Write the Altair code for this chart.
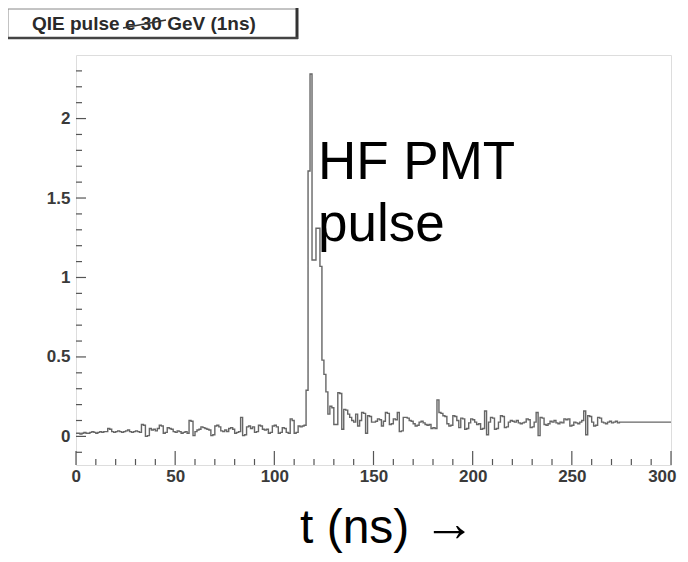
import altair as alt
import pandas as pd

# 1 ns bins, value of bin [t, t+1)
counts = [
    0.02, 0.02, 0.015, 0.02, 0.025, 0.02, 0.02, 0.025, 0.03, 0.025,      # 0-9
    0.02, 0.025, 0.03, 0.025, 0.03, 0.03, 0.05, 0.045, 0.03, 0.025,      # 10-19
    0.03, 0.035, 0.03, 0.025, 0.03, 0.035, 0.04, 0.03, 0.025, 0.03,      # 20-29
    0.035, 0.03, 0.025, 0.075, 0.07, 0.0, 0.005, 0.05, 0.04, 0.045,      # 30-39
    0.035, 0.05, 0.07, 0.065, 0.02, 0.025, 0.055, 0.05, 0.045, 0.03,     # 40-49
    0.025, 0.035, 0.03, 0.02, 0.025, 0.03, 0.02, 0.1, 0.095, 0.005,      # 50-59
    0.03, 0.04, 0.045, 0.06, 0.055, 0.05, 0.045, 0.04, 0.005, 0.01,      # 60-69
    0.065, 0.07, 0.06, 0.035, 0.03, 0.04, 0.03, 0.05, 0.055, 0.045,      # 70-79
    0.02, 0.025, 0.03, 0.12, 0.005, 0.01, 0.06, 0.065, 0.05, 0.06,       # 80-89
    0.025, 0.03, 0.07, 0.065, 0.045, 0.04, 0.045, 0.02, 0.025, 0.065,    # 90-99
    0.07, 0.06, 0.02, 0.025, 0.055, 0.05, 0.025, 0.02, 0.11, 0.1,        # 100-109
    0.02, 0.025, 0.065, 0.06, 0.065, 0.07, 0.29, 1.67, 2.28, 1.11,       # 110-119
    1.11, 1.31, 1.31, 1.07, 0.48, 0.39, 0.28, 0.14, 0.19, 0.18,          # 120-129
    0.075, 0.075, 0.275, 0.27, 0.045, 0.17, 0.165, 0.14, 0.12, 0.1,      # 130-139
    0.09, 0.14, 0.065, 0.1, 0.15, 0.145, 0.02, 0.13, 0.125, 0.09,        # 140-149
    0.09, 0.095, 0.11, 0.105, 0.065, 0.095, 0.15, 0.145, 0.075, 0.08,    # 150-159
    0.11, 0.105, 0.15, 0.03, 0.035, 0.12, 0.12, 0.115, 0.1, 0.095,       # 160-169
    0.08, 0.065, 0.07, 0.09, 0.095, 0.085, 0.075, 0.07, 0.075, 0.05,     # 170-179
    0.055, 0.05, 0.23, 0.15, 0.145, 0.13, 0.125, 0.08, 0.065, 0.07,      # 180-189
    0.13, 0.125, 0.1, 0.055, 0.115, 0.11, 0.045, 0.05, 0.085, 0.11,      # 190-199
    0.105, 0.09, 0.075, 0.08, 0.045, 0.05, 0.16, 0.01, 0.09, 0.12,       # 200-209
    0.115, 0.045, 0.05, 0.09, 0.13, 0.125, 0.055, 0.06, 0.09, 0.1,       # 210-219
    0.095, 0.09, 0.1, 0.085, 0.08, 0.085, 0.09, 0.11, 0.105, 0.055,      # 220-229
    0.06, 0.09, 0.15, 0.005, 0.12, 0.115, 0.075, 0.07, 0.08, 0.095,      # 230-239
    0.09, 0.1, 0.085, 0.08, 0.09, 0.085, 0.11, 0.105, 0.11, 0.065,       # 240-249
    0.07, 0.09, 0.085, 0.08, 0.09, 0.1, 0.16, 0.01, 0.13, 0.125,         # 250-259
    0.09, 0.065, 0.07, 0.12, 0.115, 0.09, 0.085, 0.08, 0.09, 0.095,      # 260-269
    0.085, 0.09, 0.095, 0.085, 0.09, 0.09, 0.09, 0.09, 0.09, 0.09,       # 270-279
    0.09, 0.09, 0.09, 0.09, 0.09, 0.09, 0.09, 0.09, 0.09, 0.09,          # 280-289
    0.09, 0.09, 0.09, 0.09, 0.09, 0.09, 0.09, 0.09, 0.09, 0.09,          # 290-299
]
bin_edges = list(range(len(counts) + 1))

x_major = [0, 50, 100, 150, 200, 250, 300]
x_minor = [t for t in range(0, 301, 10) if t % 50 != 0]
y_major = [0, 0.5, 1, 1.5, 2]
y_minor = [round(k / 10, 1) for k in range(-1, 24) if k % 5 != 0]

title_text = "QIE pulse e 30 GeV (1ns)"
note_lines = ["HF PMT", "pulse"]
note_x = [122, 122]
note_y = [1.62, 1.23]
xlabel_text = "t (ns) "
arrow_text = "\u2192"

W, H = 595, 410
FONT = "Liberation Sans"
AX = "#555555"

xs = alt.Scale(domain=[0, 300], nice=False, zero=False)
ys = alt.Scale(domain=[-0.18, 2.4], nice=False, zero=False)
x_axis = alt.Axis(
    values=x_major, ticks=False, domain=False, grid=False, title=None,
    labelFont=FONT, labelFontWeight="bold", labelFontSize=17,
    labelColor="#3a3a3a", labelPadding=3, labelFlush=True,
    labelFlushOffset=5, format="d")
y_axis = alt.Axis(
    values=y_major, ticks=False, domain=False, grid=False, title=None,
    labelFont=FONT, labelFontWeight="bold", labelFontSize=17,
    labelColor="#3a3a3a", labelPadding=6, format="~g")

hist_df = pd.DataFrame({"t": bin_edges, "v": counts + [counts[-1]]})
hist = alt.Chart(hist_df).mark_line(
    interpolate="step-after", color="#666666", strokeWidth=1.4
).encode(
    x=alt.X("t:Q", scale=xs, axis=x_axis),
    y=alt.Y("v:Q", scale=ys, axis=y_axis),
)

def xticks(vals, length):
    return alt.Chart(pd.DataFrame({"t": vals})).mark_rule(
        color=AX, strokeWidth=1.2
    ).encode(
        x=alt.X("t:Q", scale=xs, axis=x_axis),
        y=alt.value(H), y2=alt.value(H - length),
    )

def yticks(vals, length):
    return alt.Chart(pd.DataFrame({"v": vals})).mark_rule(
        color=AX, strokeWidth=1.2
    ).encode(
        y=alt.Y("v:Q", scale=ys, axis=y_axis),
        x=alt.value(0), x2=alt.value(length),
    )

one = pd.DataFrame({"a": [0]})

title_box = alt.Chart(one).mark_rect(
    fill="white", stroke="#888888", strokeWidth=1
).encode(x=alt.value(-68), x2=alt.value(221), y=alt.value(-46), y2=alt.value(-17))
title_right = alt.Chart(one).mark_rule(color="#333333", strokeWidth=3).encode(
    x=alt.value(221), y=alt.value(-47), y2=alt.value(-16))
title_bottom = alt.Chart(one).mark_rule(color="#444444", strokeWidth=2.5).encode(
    x=alt.value(-68), x2=alt.value(222), y=alt.value(-17))
title_mark = alt.Chart(one).mark_text(
    text=title_text, font=FONT, fontWeight="bold", fontSize=19,
    color="#2a2a2a", align="left", baseline="middle"
).encode(x=alt.value(-44), y=alt.value(-31))
strike = alt.Chart(one).mark_rule(color="#333333", strokeWidth=1.6).encode(
    x=alt.value(47), x2=alt.value(90), y=alt.value(-27), y2=alt.value(-35))

note = alt.Chart(pd.DataFrame({"x": note_x, "y": note_y, "s": note_lines})).mark_text(
    font=FONT, fontSize=53, color="black", align="left", baseline="alphabetic"
).encode(
    x=alt.X("x:Q", scale=xs, axis=x_axis),
    y=alt.Y("y:Q", scale=ys, axis=y_axis),
    text="s:N",
)

xlabel = alt.Chart(one).mark_text(
    text=xlabel_text, font=FONT, fontSize=48, color="black",
    align="left", baseline="alphabetic"
).encode(x=alt.value(224), y=alt.value(488))
arrow = alt.Chart(one).mark_text(
    text=arrow_text, font=FONT, fontSize=52, fontWeight="bold",
    color="black", align="left", baseline="alphabetic"
).encode(x=alt.value(347), y=alt.value(486))

chart = alt.layer(
    title_box, title_right, title_bottom, title_mark, strike,
    xticks(x_minor, 6), xticks(x_major, 14),
    yticks(y_minor, 6), yticks(y_major, 10),
    hist, note, xlabel, arrow,
).properties(
    width=W, height=H,
    autosize=alt.AutoSizeParams(type="none"),
    padding={"left": 68, "top": 47, "right": 9, "bottom": 88},
).configure_view(
    stroke=AX, strokeWidth=1.5
).configure(background="white")

chart.save("out.html", embed_options={"renderer": "svg", "actions": False})
